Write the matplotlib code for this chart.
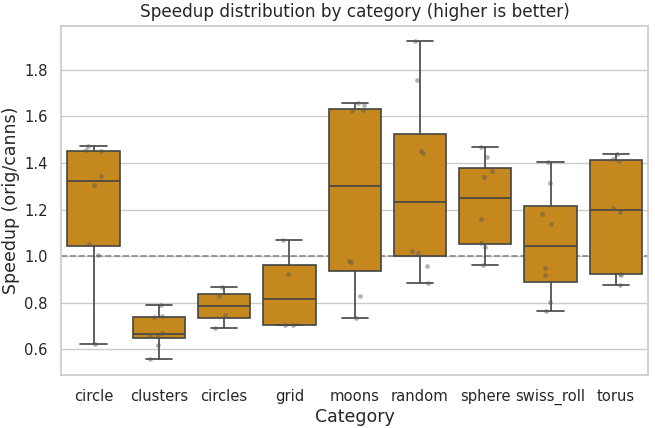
import numpy as np
import pandas as pd
import matplotlib
matplotlib.use("Agg")
import matplotlib.pyplot as plt
import seaborn as sns

categories = ["circle", "clusters", "circles", "grid", "moons", "random", "sphere", "swiss_roll", "torus"]
circle = [0.624, 1.007, 1.053, 1.305, 1.343, 1.452, 1.458, 1.474]
clusters = [0.558, 0.617, 0.660, 0.663, 0.668, 0.738, 0.741, 0.789]
circles = [0.692, 0.746, 0.828, 0.868]
grid = [0.704, 0.706, 0.924, 1.069]
moons = [0.735, 0.831, 0.974, 0.980, 1.625, 1.628, 1.649, 1.659]
random_ = [0.884, 0.958, 1.013, 1.024, 1.445, 1.450, 1.757, 1.925]
sphere = [0.961, 1.039, 1.055, 1.158, 1.340, 1.366, 1.424, 1.470]
swiss_roll = [0.765, 0.803, 0.918, 0.947, 1.136, 1.181, 1.313, 1.406]
torus = [0.878, 0.920, 0.925, 1.191, 1.206, 1.410, 1.418, 1.438]

series = [circle, clusters, circles, grid, moons, random_, sphere, swiss_roll, torus]
rows = []
for cat, vals in zip(categories, series):
    for v in vals:
        rows.append({"Category": cat, "Speedup": v})
df = pd.DataFrame(rows)

sns.set_theme(style="whitegrid")
plt.rcParams['font.family'] = ['DejaVu Sans']

fig, ax = plt.subplots(figsize=(6.55, 4.28), dpi=100)
sns.boxplot(data=df, x="Category", y="Speedup", order=categories, color="#C4881E",
            saturation=1, width=0.8, whis=np.inf, linecolor="#444444", linewidth=1.2, ax=ax)
np.random.seed(3)
sns.stripplot(data=df, x="Category", y="Speedup", order=categories, color="#555555",
              alpha=0.45, size=3.4, jitter=0.15, ax=ax)
ax.axhline(1.0, color="#888888", linestyle="--", linewidth=1.2, zorder=0.9)
ax.set_ylim(0.488, 1.99)
ax.set_yticks([0.6, 0.8, 1.0, 1.2, 1.4, 1.6, 1.8])
ax.set_title("Speedup distribution by category (higher is better)", fontsize=12.2)
ax.set_xlabel("Category", fontsize=12.5, labelpad=2)
ax.set_ylabel("Speedup (orig/canns)", fontsize=12.5, labelpad=3)
ax.tick_params(axis='both', labelsize=10.6)
fig.subplots_adjust(left=0.093, right=0.99, top=0.94, bottom=0.123)
fig.savefig("out.png", dpi=100)
